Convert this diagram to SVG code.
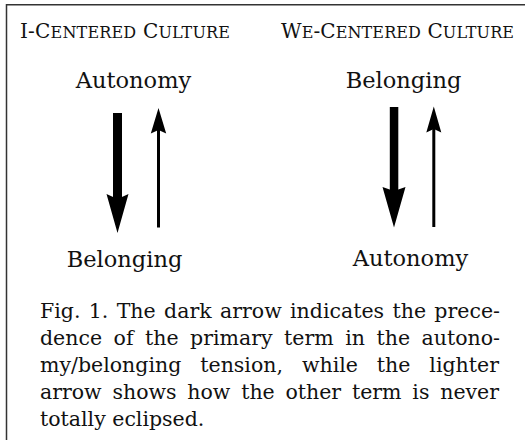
<svg xmlns="http://www.w3.org/2000/svg" width="525" height="440" viewBox="0 0 525 440">
<style>
.t{font-family:"DejaVu Serif","Liberation Serif",serif;fill:#111}
.hd{font-size:20px}
.sc{font-size:16px}
.lbl{font-size:22.5px;text-anchor:middle}
.cap{font-size:20.5px}
.frame{stroke:#333;stroke-width:1.5;fill:none}
.arr{fill:#000}
.thin{stroke:#000;stroke-width:3;fill:none}
</style>
<rect width="525" height="440" fill="#fff"/>
<g id="frame">
<path class="frame" d="M6.5 440 V4.75 H525"/>
</g>
<g id="header-i-centered">
<text class="t hd" x="20" y="38" textLength="210" lengthAdjust="spacing">I-C<tspan class="sc">ENTERED</tspan> C<tspan class="sc">ULTURE</tspan></text>
</g>
<g id="header-we-centered">
<text class="t hd" x="281" y="38" textLength="233" lengthAdjust="spacing">W<tspan class="sc">E</tspan>-C<tspan class="sc">ENTERED</tspan> C<tspan class="sc">ULTURE</tspan></text>
</g>
<g id="i-autonomy"><text class="t lbl" x="133.5" y="88">Autonomy</text></g>
<g id="i-belonging"><text class="t lbl" x="124.5" y="267">Belonging</text></g>
<g id="we-belonging"><text class="t lbl" x="403.5" y="88">Belonging</text></g>
<g id="we-autonomy"><text class="t lbl" x="410.5" y="266">Autonomy</text></g>
<g id="connectors">
<g id="i-dark-arrow">
<rect class="arr" x="113" y="113" width="9" height="86"/>
<polygon class="arr" points="106.5,194 117.5,199 128.5,194 117.5,233"/>
</g>
<g id="i-light-arrow">
<line class="thin" x1="158.5" y1="130" x2="158.5" y2="227.5"/>
<polygon class="arr" points="150.8,133.5 158.5,130 166.2,133.5 158.5,108"/>
</g>
<g id="we-dark-arrow">
<rect class="arr" x="389.8" y="107" width="8.5" height="85"/>
<polygon class="arr" points="382.5,187 394,191 405.5,187 394,227.5"/>
</g>
<g id="we-light-arrow">
<line class="thin" x1="433.8" y1="129" x2="433.8" y2="227"/>
<polygon class="arr" points="426.3,132.5 433.8,129 441.3,132.5 433.8,106.5"/>
</g>
</g>
<g id="caption">
<text class="t cap" x="40" y="318" word-spacing="1.8" textLength="460" lengthAdjust="spacing">Fig. 1. The dark arrow indicates the prece-</text>
<text class="t cap" x="40" y="345" word-spacing="5" textLength="460" lengthAdjust="spacing">dence of the primary term in the autono-</text>
<text class="t cap" x="40" y="372" word-spacing="12.4" textLength="459" lengthAdjust="spacing">my/belonging tension, while the lighter</text>
<text class="t cap" x="40" y="399" word-spacing="4.3" textLength="459" lengthAdjust="spacing">arrow shows how the other term is never</text>
<text class="t cap" x="40" y="426">totally eclipsed.</text>
</g>
</svg>
